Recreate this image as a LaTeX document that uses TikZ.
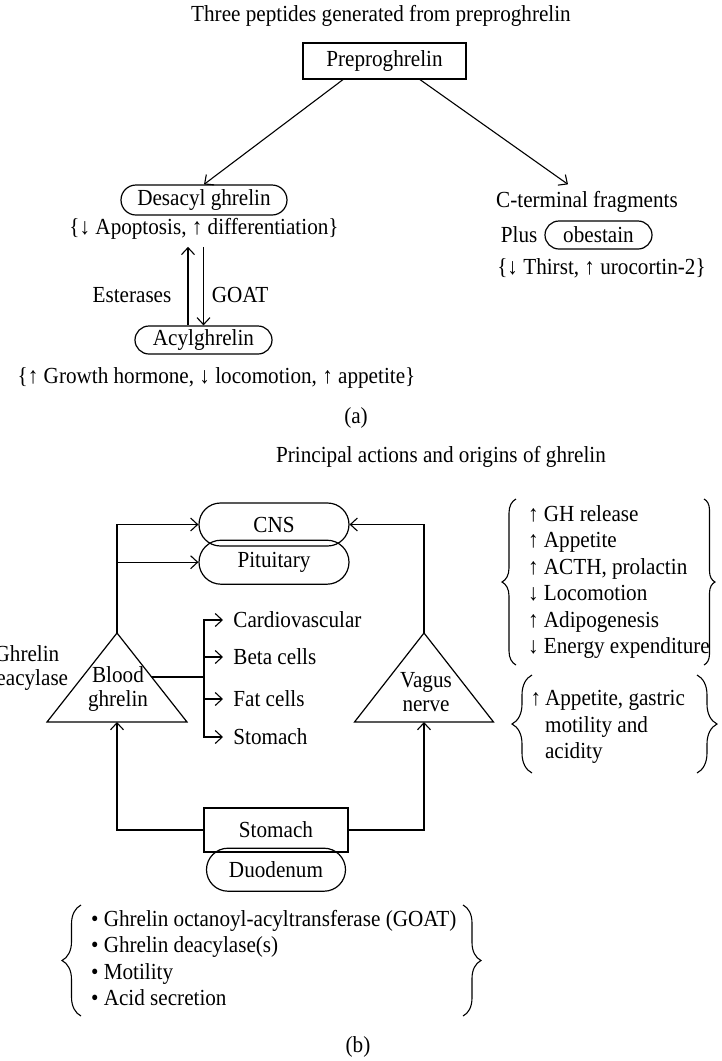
\documentclass[tikz,border=0pt]{standalone}
\usepackage{fontspec}
\setmainfont{Liberation Serif}[FakeStretch=0.92]
\usetikzlibrary{positioning,shapes.misc,arrows.meta,decorations.pathreplacing}
\tikzset{every node/.style={font=\fontsize{11.5pt}{13.25pt}\selectfont}}
\tikzset{box/.style={draw, line width=0.6pt, inner sep=0pt}}
\tikzset{pill/.style={draw, rounded rectangle, line width=0.6pt, inner sep=0pt}}
\tikzset{tight/.style={align=center, font=\fontsize{11.5pt}{11.75pt}\selectfont}}
\tikzset{organ/.style={anchor=west, inner xsep=5pt}}
\tikzset{link/.style={-{Straight Barb[length=3.5pt,width=6.5pt]}, line width=0.55pt}}
\tikzset{wire/.style={line width=0.55pt}}
\tikzset{curly/.style={decorate, decoration={brace, amplitude=#1}, line width=0.55pt}, curly/.default=7pt}

\begin{document}
\begin{tikzpicture}[x=0.5pt, y=-0.5pt]
  \useasboundingbox (0,0) rectangle (722,1061);

  % (a) three peptides
  \node (titlea) at (381,16) {Three peptides generated from preproghrelin};
  \node (pre) [box, minimum width=81.5pt, minimum height=18pt] at (384.5,61) {Preproghrelin};
  \node (desacyl) [pill, minimum width=83pt, minimum height=15pt] at (204,200) {Desacyl ghrelin};
  \node (desfx) [below=-2pt of desacyl] {\{↓ Apoptosis, ↑ differentiation\}};
  \node (acyl) [pill, minimum width=68.5pt, minimum height=14pt] at (203.5,340) {Acylghrelin};
  \node (acylfx) at (216.5,378) {\{↑ Growth hormone, ↓ locomotion, ↑ appetite\}};
  \node (este) at (132,295) {Esterases};
  \node (goat) at (240,295) {GOAT};
  \node (cterm) at (587,202) {C-terminal fragments};
  \node (obest) [pill, minimum width=53.5pt, minimum height=14pt] at (598.5,235) {obestain};
  \node (plus) [left=0pt of obest] {Plus};
  \node (obfx) at (601.5,268) {\{↓ Thirst, ↑ urocortin-2\}};
  \node (capa) at (356,418) {(a)};

  \draw[link] ([xshift=-20.75pt]pre.south) -- (desacyl.north);
  \draw[link] ([xshift=17.75pt]pre.south) -- ([xshift=-9.5pt]cterm.north);
  \draw[link] ([xshift=-7.75pt]acyl.north) -- ([xshift=-7.75pt]acyl.north |- desfx.south);
  \draw[link] (acyl.north |- desfx.south) -- (acyl.north);

  % (b) actions and origins
  \node (titleb) at (441,457) {Principal actions and origins of ghrelin};
  \node (cns) [pill, minimum width=75pt, minimum height=21.5pt] at (274,524.5) {CNS};
  \node (pit) [pill, minimum width=75pt, minimum height=22pt, below=-3.5pt of cns] {Pituitary};

  \coordinate (bapex) at (117,633);
  \coordinate (bbase) at (117,722);
  \coordinate (bedge) at (151.6,677);
  \coordinate (hub) at (204,677);
  \draw[line width=0.6pt] (bapex) -- (187,722) -- (47,722) -- cycle;
  \node (blood) [tight] at (118,689) {Blood\\ghrelin};
  \node (deacyl) [tight] at (27,668) {Ghrelin\\deacylase};

  \coordinate (vapex) at (424,633);
  \coordinate (vbase) at (424,722);
  \draw[line width=0.6pt] (vapex) -- (493.5,722) -- (354.5,722) -- cycle;
  \node (vagus) [tight] at (426,692) {Vagus\\nerve};

  \node (cardio) [organ] at (223,620) {Cardiovascular};
  \node (beta) [organ] at (223,657) {Beta cells};
  \node (fat) [organ] at (223,699) {Fat cells};
  \node (stomt) [organ] at (223,737) {Stomach};

  \draw[wire] (bedge) -- (hub);
  \draw[link] (hub) |- (cardio.west);
  \draw[link] (hub) |- (stomt.west);
  \draw[link] (hub |- beta.west) -- (beta.west);
  \draw[link] (hub |- fat.west) -- (fat.west);

  \draw[link] (bapex) |- (cns.west);
  \draw[link] (bapex |- pit.west) -- (pit.west);
  \draw[link] (vapex) |- (cns.east);

  \node (stom) [box, minimum width=72pt, minimum height=22pt] at (276,830) {Stomach};
  \node (duod) [pill, minimum width=69.5pt, minimum height=21.5pt, below=-2.5pt of stom] {Duodenum};
  \draw[link] (stom.west) -| (bbase);
  \draw[link] (stom.east) -| (vbase);

  % effect lists
  \node (gh) [anchor=west, align=left] at (521,582) {↑ GH release\\↑ Appetite\\↑ ACTH, prolactin\\↓ Locomotion\\↑ Adipogenesis\\↓ Energy expenditure};
  \draw[curly=7pt] (516,665) -- (516,499);
  \draw[curly=5.5pt] (704,499) -- (704,665);

  \node (vag) [anchor=west, align=left] at (538,727) {\llap{↑\,}Appetite, gastric\\motility and\\acidity};
  \draw[curly=10pt] (532,773) -- (532,675);
  \draw[curly=10pt] (697,675) -- (697,773);

  \node (gut) [anchor=west, align=left] at (84,958) {\textbullet\ Ghrelin octanoyl-acyltransferase (GOAT)\\\textbullet\ Ghrelin deacylase(s)\\\textbullet\ Motility\\\textbullet\ Acid secretion};
  \draw[curly=9.5pt] (81,1016) -- (81,905);
  \draw[curly=9pt] (463,905) -- (463,1016);

  \node (capb) at (358,1047) {(b)};
\end{tikzpicture}
\end{document}
